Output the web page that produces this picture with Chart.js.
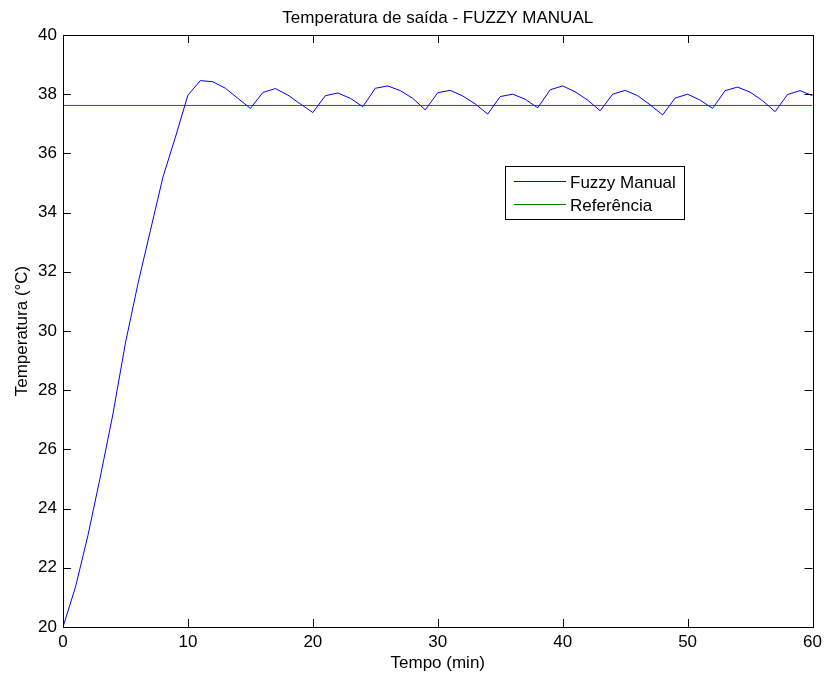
<!DOCTYPE html>
<html><head><meta charset="utf-8">
<script src="https://cdn.jsdelivr.net/npm/chart.js@4/dist/chart.umd.min.js"></script>
<style>html,body{margin:0;padding:0;background:#fff}canvas{display:block}</style>
</head><body>
<canvas id="c" width="827" height="677"></canvas>
<script>
const chartTitle = 'Temperatura de saída - FUZZY MANUAL';
const xLabel = 'Tempo (min)';
const yLabel = 'Temperatura (°C)';
const seriesNames = ['Fuzzy Manual', 'Referência'];
const timeMin = [0,1,2,3,4,5,6,7,8,9,10,11,12,13,14,15,16,17,18,19,20,21,22,23,24,25,26,27,28,29,30,31,32,33,34,35,36,37,38,39,40,41,42,43,44,45,46,47,48,49,50,51,52,53,54,55,56,57,58,59,60];
const fuzzyTemp = [20.0,21.35,23.1,25.1,27.2,29.6,31.6,33.4,35.2,36.55,37.97,38.46,38.42,38.2,37.86,37.52,38.06,38.19,37.97,37.67,37.38,37.95,38.04,37.86,37.58,38.2,38.28,38.12,37.86,37.47,38.05,38.13,37.94,37.67,37.33,37.92,38.0,37.83,37.54,38.15,38.28,38.08,37.8,37.44,38.0,38.13,37.95,37.64,37.3,37.87,38.0,37.8,37.52,38.12,38.24,38.07,37.78,37.41,37.99,38.12,37.95];
const refTime = [0, 60];
const refTemp = [37.62, 37.62];
const xTicks = [0,10,20,30,40,50,60];
const yTicks = [20,22,24,26,28,30,32,34,36,38,40];

const FONT = 'Liberation Sans, Arial, sans-serif';
const FS = 17;

const boxPlugin = {
  id: 'matlabBox',
  afterDraw(chart) {
    const {ctx, chartArea: a, scales} = chart;
    ctx.save();
    ctx.strokeStyle = '#000';
    ctx.lineWidth = 1;
    const tl = 8;
    ctx.beginPath();
    scales.x.ticks.forEach(t => {
      const px = Math.round(scales.x.getPixelForValue(t.value)) + 0.5;
      ctx.moveTo(px, a.bottom); ctx.lineTo(px, a.bottom - tl);
      ctx.moveTo(px, a.top); ctx.lineTo(px, a.top + tl);
    });
    scales.y.ticks.forEach(t => {
      const py = Math.round(scales.y.getPixelForValue(t.value)) + 0.5;
      ctx.moveTo(a.left, py); ctx.lineTo(a.left + tl, py);
      ctx.moveTo(a.right, py); ctx.lineTo(a.right - tl, py);
    });
    ctx.stroke();
    ctx.strokeRect(Math.round(a.left) + 0.5, Math.round(a.top) + 0.5, Math.round(a.right - a.left), Math.round(a.bottom - a.top));
    // title
    ctx.fillStyle = '#000';
    ctx.font = FS + 'px ' + FONT;
    ctx.textAlign = 'center';
    ctx.textBaseline = 'alphabetic';
    ctx.fillText(chartTitle, (a.left + a.right) / 2, 23);
    // legend
    const lx = 505.5, ly = 166.5, lw = 179, lh = 53;
    ctx.fillStyle = '#fff';
    ctx.fillRect(lx, ly, lw, lh);
    ctx.strokeStyle = '#000';
    ctx.strokeRect(lx, ly, lw, lh);
    ctx.textAlign = 'left';
    chart.data.datasets.forEach((ds, i) => {
      const y = 181.5 + i * 23;
      ctx.strokeStyle = ds.borderColor;
      ctx.beginPath(); ctx.moveTo(514, y); ctx.lineTo(566, y); ctx.stroke();
      ctx.fillStyle = '#000';
      ctx.fillText(ds.label, 570, y + 6);
    });
    ctx.restore();
  }
};

new Chart(document.getElementById('c'), {
  type: 'line',
  data: {
    datasets: [
      { label: seriesNames[0], data: timeMin.map((t, i) => ({x: t, y: fuzzyTemp[i]})), borderColor: '#0000ff', borderWidth: 1, pointRadius: 0, tension: 0 },
      { label: seriesNames[1], data: refTime.map((t, i) => ({x: t, y: refTemp[i]})), borderColor: '#008000', borderWidth: 1, pointRadius: 0, tension: 0 }
    ]
  },
  options: {
    responsive: false,
    animation: false,
    events: [],
    layout: { padding: { top: 35, right: 13, left: 0, bottom: 0 } },
    plugins: { legend: { display: false }, title: { display: false }, tooltip: { enabled: false } },
    scales: {
      x: {
        type: 'linear', min: 0, max: 60,
        afterBuildTicks: s => { s.ticks = xTicks.map(v => ({value: v})); },
        afterFit: s => { s.height = 50; },
        grid: { display: false, drawTicks: false },
        border: { display: false },
        ticks: { color: '#000', font: { family: FONT, size: FS }, padding: 5, maxRotation: 0 },
        title: { display: true, text: xLabel, color: '#000', font: { family: FONT, size: FS }, padding: { top: 0, bottom: 3 } }
      },
      y: {
        type: 'linear', min: 20, max: 40,
        afterBuildTicks: s => { s.ticks = yTicks.map(v => ({value: v})); },
        afterFit: s => { s.width = 63; },
        grid: { display: false, drawTicks: false },
        border: { display: false },
        ticks: { color: '#000', font: { family: FONT, size: FS }, padding: 6 },
        title: { display: true, text: yLabel, color: '#000', font: { family: FONT, size: FS }, padding: { top: 12, bottom: 0 } }
      }
    }
  },
  plugins: [boxPlugin]
});
</script>
</body></html>
